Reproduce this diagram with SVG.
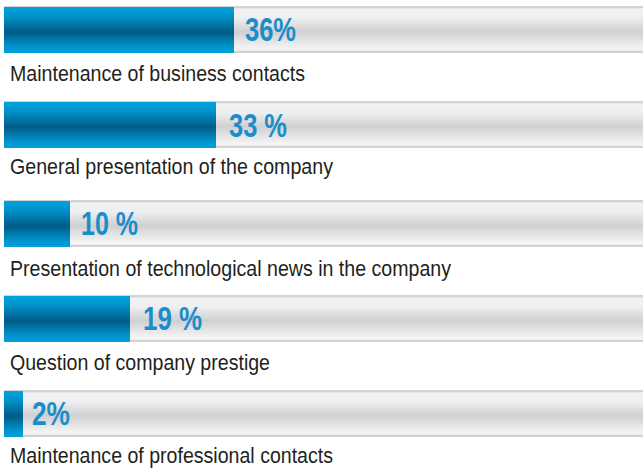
<svg xmlns="http://www.w3.org/2000/svg" width="643" height="473" viewBox="0 0 643 473">
<defs>
<linearGradient id="blue" x1="0" y1="0" x2="0" y2="1">
<stop offset="0" stop-color="#00a4de"/>
<stop offset="0.2" stop-color="#0092c9"/>
<stop offset="0.55" stop-color="#005c88"/>
<stop offset="0.85" stop-color="#0093cb"/>
<stop offset="1" stop-color="#00a2da"/>
</linearGradient>
<linearGradient id="gray" x1="0" y1="0" x2="0" y2="1">
<stop offset="0" stop-color="#d2d3d5"/>
<stop offset="0.04" stop-color="#d2d3d5"/>
<stop offset="0.06" stop-color="#f1f2f4"/>
<stop offset="0.25" stop-color="#eeeff1"/>
<stop offset="0.55" stop-color="#cfd0d2"/>
<stop offset="0.8" stop-color="#eaeaeb"/>
<stop offset="0.94" stop-color="#f7f7f7"/>
<stop offset="0.96" stop-color="#d2d3d5"/>
<stop offset="1" stop-color="#d2d3d5"/>
</linearGradient>
</defs>
<style>
.track{fill:url(#gray)}
.bar{fill:url(#blue)}
.pct{font-family:"Liberation Sans",Arial,sans-serif;font-weight:bold;font-size:32.5px;fill:#1a8dca}
.lbl{font-family:"Liberation Sans",Arial,sans-serif;font-size:22.5px;fill:#231f20}
</style>
<g id="item1">
<rect class="track" x="4" y="6" width="639" height="47"/>
<rect class="bar" x="4" y="7" width="230" height="46"/>
<text class="pct" x="245" y="41" textLength="51" lengthAdjust="spacingAndGlyphs">36%</text>
<text class="lbl" x="10" y="81" textLength="295" lengthAdjust="spacingAndGlyphs">Maintenance of business contacts</text>
</g>
<g id="item2">
<rect class="track" x="4" y="101" width="639" height="47"/>
<rect class="bar" x="4" y="102" width="212" height="46"/>
<text class="pct" x="229" y="136.5" textLength="58" lengthAdjust="spacingAndGlyphs">33 %</text>
<text class="lbl" x="10" y="174" textLength="323" lengthAdjust="spacingAndGlyphs">General presentation of the company</text>
</g>
<g id="item3">
<rect class="track" x="4" y="200" width="639" height="47"/>
<rect class="bar" x="4" y="201" width="66" height="46"/>
<text class="pct" x="81" y="235" textLength="57" lengthAdjust="spacingAndGlyphs">10 %</text>
<text class="lbl" x="10" y="275.5" textLength="441" lengthAdjust="spacingAndGlyphs">Presentation of technological news in the company</text>
</g>
<g id="item4">
<rect class="track" x="4" y="295" width="639" height="47"/>
<rect class="bar" x="4" y="296" width="126" height="46"/>
<text class="pct" x="143" y="330" textLength="59" lengthAdjust="spacingAndGlyphs">19 %</text>
<text class="lbl" x="10" y="370" textLength="260" lengthAdjust="spacingAndGlyphs">Question of company prestige</text>
</g>
<g id="item5">
<rect class="track" x="4" y="390" width="639" height="47"/>
<rect class="bar" x="4" y="391" width="19" height="46"/>
<text class="pct" x="32" y="425" textLength="38" lengthAdjust="spacingAndGlyphs">2%</text>
<text class="lbl" x="10" y="463" textLength="323" lengthAdjust="spacingAndGlyphs">Maintenance of professional contacts</text>
</g>
<g id="connectors"/>
</svg>
